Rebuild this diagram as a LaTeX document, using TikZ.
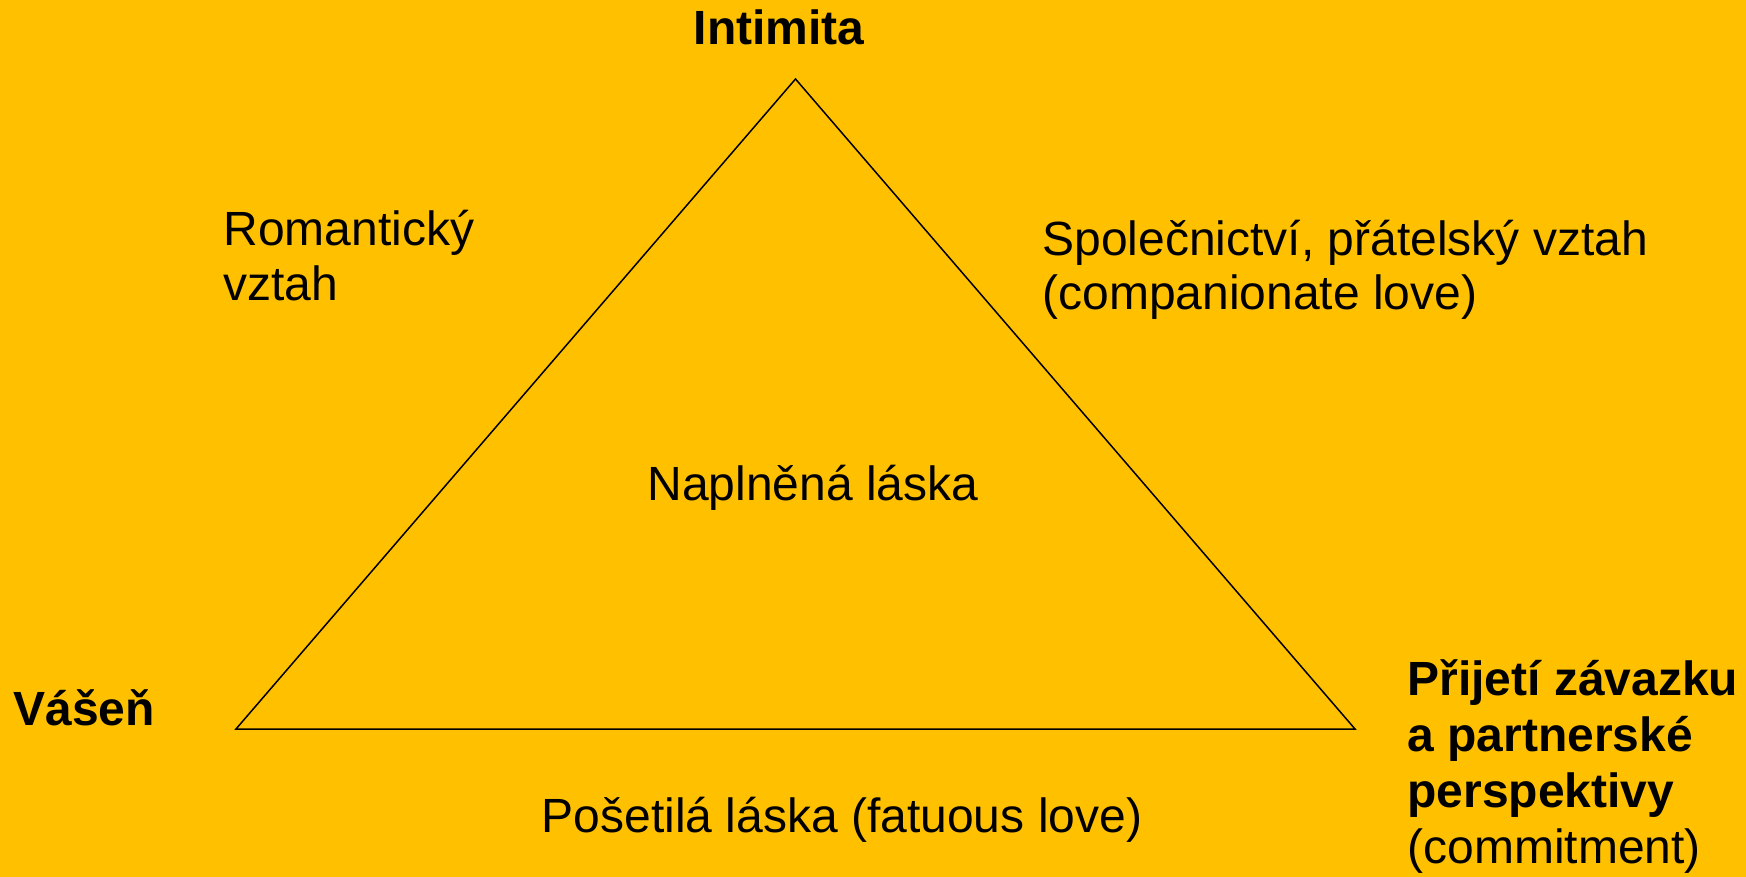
\documentclass[tikz,border=0pt]{standalone}
\usepackage{fontspec}
\setmainfont{Liberation Sans}
\definecolor{bg}{HTML}{FFC000}
\begin{document}
\begin{tikzpicture}[x=0.5pt,y=-0.5pt,
  lbl/.style={inner sep=0pt, anchor=base west, align=left, font=\fontsize{24}{28}\selectfont},
  blbl/.style={lbl, font=\fontsize{24}{28}\selectfont\bfseries},
  edge/.style={draw=black, line width=0.75pt, line join=miter}]
\fill[bg] (0,0) rectangle (1746,877);
\useasboundingbox (0,0) rectangle (1746,877);
\coordinate (top) at (795.5,79);
\coordinate (bl) at (236,729);
\coordinate (br) at (1355,729);
\draw[edge] (top) -- (bl) -- (br) -- cycle;
\node[blbl, anchor=base] (intimita) at (779,45) {Intimita};
\node[blbl] (vasen) at (13,725) {Vášeň};
\node[blbl] (prijeti) at (1407,863) {Přijetí závazku\\a partnerské\\perspektivy\\\mdseries(commitment)};
\node[lbl, font=\fontsize{24}{27.5}\selectfont] (roman) at (223,300) {Romantický\\vztah};
\node[lbl, font=\fontsize{24}{27.5}\selectfont] (spol) at (1042,310) {Společnictví, přátelský vztah\\(companionate love)};
\node[lbl, anchor=base] (napl) at (813,500) {Naplněná láska};
\node[lbl, anchor=base] (poset) at (842,832) {Pošetilá láska (fatuous love)};
\end{tikzpicture}
\end{document}
